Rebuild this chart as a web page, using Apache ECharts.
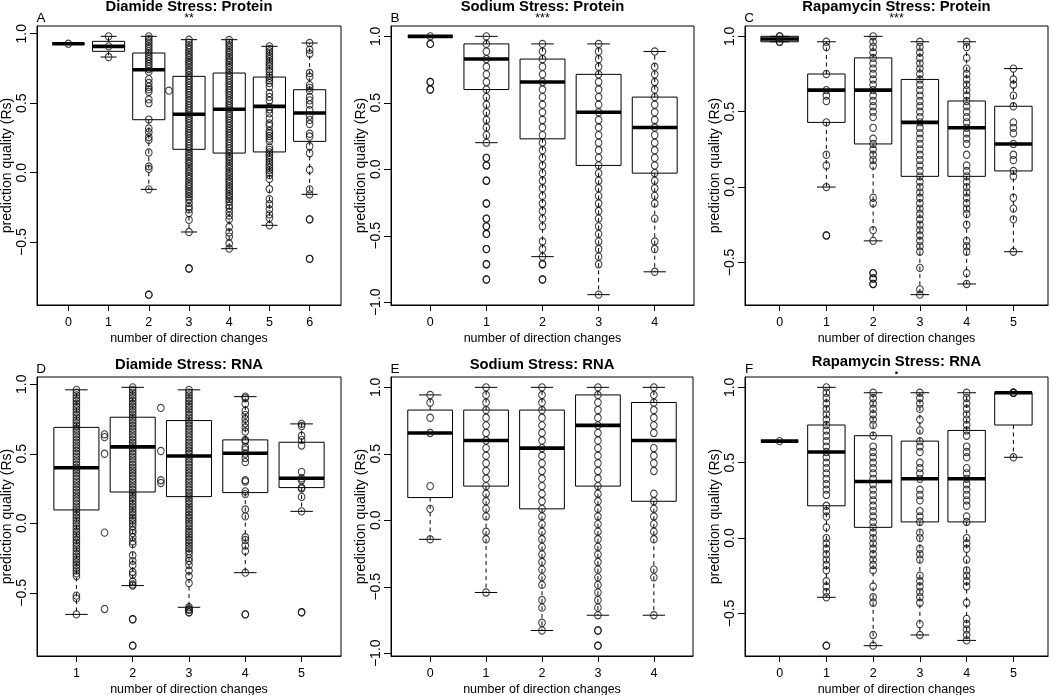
<!DOCTYPE html>
<html><head><meta charset="utf-8">
<script src="https://cdn.jsdelivr.net/npm/echarts@6/dist/echarts.min.js"></script>
<style>html,body{margin:0;padding:0;background:#fff}#c{width:1050px;height:695px}</style>
</head><body><div id="c"></div>
<script>
// ---------------- DATA ----------------
const titles = ['Diamide Stress: Protein','Sodium Stress: Protein','Rapamycin Stress: Protein',
                'Diamide Stress: RNA','Sodium Stress: RNA','Rapamycin Stress: RNA'];
const letters = ['A','B','C','D','E','F'];
const stars = ['**','***','***','','','.'];
const xTitle = 'number of direction changes';
const yTitle = 'prediction quality (Rs)';

// categories (number of direction changes) per panel
const catsA = [0,1,2,3,4,5,6];
const catsB = [0,1,2,3,4];
const catsC = [0,1,2,3,4,5];
const catsD = [1,2,3,4,5];
const catsE = [0,1,2,3,4];
const catsF = [0,1,2,3,4,5];

// y tick labels per panel
const yTicksA = [-0.5,0,0.5,1];
const yTicksB = [-1,-0.5,0,0.5,1];
const yTicksC = [-0.5,0,0.5,1];
const yTicksD = [-0.5,0,0.5,1];
const yTicksE = [-1,-0.5,0,0.5,1];
const yTicksF = [-0.5,0,0.5,1];

// box statistics per category: [lower whisker, Q1, median, Q3, upper whisker]
const boxA = [[0.928,0.928,0.928,0.928,0.928],[0.832,0.873,0.909,0.945,0.981],[-0.12,0.381,0.741,0.861,0.981],
              [-0.427,0.168,0.42,0.693,0.957],[-0.547,0.141,0.456,0.717,0.957],[-0.379,0.149,0.477,0.688,0.909],
              [-0.156,0.225,0.429,0.597,0.933]];
const boxB = [[1,1,1,1,1],[0.2,0.6,0.829,0.943,1.0],[-0.657,0.229,0.657,0.829,0.943],
              [-0.943,0.029,0.429,0.714,0.943],[-0.771,-0.029,0.314,0.543,0.886]];
const boxC = [[0.964,0.964,0.982,1.0,1.0],[0.0,0.429,0.643,0.75,0.964],[-0.357,0.286,0.643,0.857,1.0],
              [-0.714,0.071,0.429,0.714,0.964],[-0.643,0.071,0.393,0.571,0.964],[-0.429,0.107,0.286,0.536,0.786]];
const boxD = [[-0.655,0.096,0.40,0.69,0.96],[-0.448,0.225,0.55,0.763,0.978],[-0.604,0.192,0.484,0.739,0.96],
              [-0.355,0.221,0.504,0.6,0.911],[0.086,0.257,0.324,0.583,0.715]];
const boxE = [[-0.143,0.171,0.657,0.829,0.943],[-0.543,0.257,0.6,0.829,1.0],[-0.829,0.086,0.543,0.829,1.0],
              [-0.714,0.257,0.714,0.943,1.0],[-0.714,0.143,0.6,0.886,1.0]];
const boxF = [[0.643,0.643,0.643,0.643,0.643],[-0.393,0.214,0.571,0.75,1.0],[-0.714,0.071,0.375,0.679,0.964],
              [-0.643,0.107,0.393,0.643,0.964],[-0.679,0.107,0.393,0.714,0.964],[0.536,0.75,0.964,0.964,0.964]];

// individual gene values per category (overlaid circles)
const ptsA = [
 [0.928],
 [0.981,0.909,0.832],
 [0.981,0.963,0.945,0.927,0.909,0.891,0.873,0.855,0.836,0.818,0.8,0.782,0.764,0.745,0.727,0.673,0.645,0.618,0.6,0.582,0.527,0.5,0.382,0.318,0.291,0.255,0.236,0.145,0.045,0.027,-0.12,-0.878],
 [0.957,0.936,0.918,0.9,0.882,0.864,0.845,0.827,0.809,0.791,0.773,0.755,0.736,0.718,0.7,0.682,0.664,0.645,0.627,0.609,0.591,0.573,0.555,0.536,0.518,0.5,0.482,0.464,0.445,0.427,0.409,0.391,0.373,0.355,0.336,0.318,0.3,0.282,0.264,0.245,0.227,0.209,0.191,0.173,0.155,0.136,0.118,0.1,0.082,0.064,0.045,0.027,0.009,-0.009,-0.027,-0.045,-0.064,-0.082,-0.1,-0.118,-0.136,-0.155,-0.173,-0.191,-0.218,-0.245,-0.264,-0.291,-0.34,-0.427,-0.69],
 [0.955,0.936,0.918,0.9,0.882,0.864,0.845,0.827,0.809,0.791,0.773,0.755,0.736,0.718,0.7,0.682,0.664,0.645,0.627,0.609,0.591,0.573,0.555,0.536,0.518,0.5,0.482,0.464,0.445,0.427,0.409,0.391,0.373,0.355,0.336,0.318,0.3,0.282,0.264,0.245,0.227,0.209,0.191,0.173,0.155,0.136,0.118,0.1,0.082,0.064,0.045,0.027,0.009,-0.009,-0.027,-0.045,-0.064,-0.082,-0.1,-0.118,-0.136,-0.155,-0.173,-0.191,-0.209,-0.236,-0.255,-0.282,-0.309,-0.336,-0.39,-0.43,-0.46,-0.51,-0.547],
 [0.909,0.891,0.873,0.855,0.836,0.818,0.8,0.782,0.764,0.745,0.727,0.7,0.682,0.664,0.645,0.618,0.573,0.545,0.518,0.473,0.455,0.427,0.391,0.355,0.336,0.3,0.282,0.264,0.245,0.227,0.182,0.164,0.145,0.127,0.109,0.091,0.073,0.055,0.036,0.018,0.0,-0.018,-0.045,-0.118,-0.191,-0.227,-0.264,-0.3,-0.327,-0.379],
 [0.933,0.885,0.856,0.717,0.69,0.63,0.61,0.59,0.545,0.52,0.49,0.45,0.41,0.38,0.35,0.28,0.26,0.19,0.14,0.02,-0.12,-0.156,-0.336,-0.62]
];
const ptsB = [
 [1.0,0.943,0.657,0.6],
 [1.0,0.943,0.886,0.829,0.771,0.714,0.657,0.6,0.543,0.486,0.429,0.371,0.314,0.257,0.2,0.086,0.029,-0.086,-0.257,-0.371,-0.429,-0.486,-0.6,-0.714,-0.829],
 [0.943,0.886,0.829,0.771,0.714,0.657,0.6,0.543,0.486,0.429,0.371,0.314,0.257,0.2,0.143,0.086,0.029,-0.029,-0.086,-0.143,-0.2,-0.257,-0.314,-0.371,-0.429,-0.543,-0.6,-0.657,-0.714,-0.829],
 [0.943,0.886,0.829,0.771,0.714,0.657,0.6,0.543,0.486,0.429,0.371,0.314,0.257,0.2,0.143,0.086,0.029,-0.029,-0.086,-0.143,-0.2,-0.257,-0.314,-0.371,-0.429,-0.486,-0.543,-0.6,-0.657,-0.714,-0.943],
 [0.886,0.771,0.714,0.657,0.6,0.543,0.486,0.429,0.371,0.314,0.257,0.2,0.143,0.086,0.029,-0.029,-0.086,-0.143,-0.2,-0.257,-0.371,-0.543,-0.6,-0.771]
];
const ptsC = [
 [1.0,1.0,0.964,0.964],
 [0.964,0.929,0.75,0.643,0.607,0.571,0.429,0.214,0.143,0.0,-0.321],
 [1.0,0.964,0.929,0.893,0.857,0.821,0.786,0.75,0.714,0.679,0.643,0.607,0.571,0.536,0.5,0.464,0.393,0.321,0.286,0.25,0.214,0.179,0.143,-0.071,-0.107,-0.286,-0.357,-0.571,-0.607,-0.643],
 [0.964,0.929,0.893,0.857,0.821,0.786,0.75,0.714,0.679,0.643,0.607,0.571,0.536,0.5,0.464,0.429,0.393,0.357,0.321,0.286,0.25,0.214,0.179,0.143,0.107,0.071,0.036,0.0,-0.036,-0.071,-0.107,-0.143,-0.179,-0.214,-0.25,-0.286,-0.321,-0.357,-0.393,-0.429,-0.536,-0.679,-0.714],
 [0.964,0.929,0.857,0.786,0.75,0.714,0.679,0.643,0.607,0.571,0.536,0.5,0.464,0.429,0.393,0.357,0.321,0.286,0.214,0.143,0.107,0.071,0.036,0.0,-0.036,-0.071,-0.107,-0.143,-0.179,-0.25,-0.357,-0.393,-0.429,-0.571,-0.643],
 [0.786,0.714,0.679,0.607,0.536,0.429,0.393,0.357,0.286,0.214,0.179,0.107,0.071,-0.071,-0.143,-0.214,-0.429]
];
const ptsD = [
 [0.96,0.94,0.92,0.9,0.88,0.86,0.84,0.82,0.8,0.78,0.76,0.74,0.72,0.7,0.68,0.66,0.64,0.62,0.6,0.58,0.56,0.54,0.52,0.5,0.48,0.46,0.44,0.42,0.4,0.38,0.36,0.34,0.32,0.3,0.28,0.26,0.24,0.22,0.2,0.18,0.16,0.14,0.12,0.1,0.08,0.06,0.04,0.02,0.0,-0.02,-0.04,-0.06,-0.08,-0.1,-0.12,-0.14,-0.16,-0.18,-0.2,-0.22,-0.24,-0.26,-0.28,-0.3,-0.32,-0.34,-0.36,-0.38,-0.52,-0.54,-0.655],
 [0.978,0.96,0.94,0.92,0.9,0.88,0.86,0.84,0.82,0.8,0.78,0.76,0.74,0.72,0.7,0.68,0.66,0.64,0.62,0.6,0.58,0.56,0.54,0.52,0.5,0.48,0.46,0.44,0.42,0.4,0.38,0.36,0.34,0.32,0.3,0.28,0.26,0.24,0.22,0.2,0.18,0.16,0.14,0.12,0.1,0.08,0.06,0.04,0.02,0.0,-0.02,-0.05,-0.07,-0.1,-0.13,-0.15,-0.23,-0.27,-0.3,-0.35,-0.37,-0.42,-0.44,-0.448,-0.69,-0.88],
 [0.96,0.94,0.92,0.9,0.88,0.86,0.84,0.82,0.8,0.78,0.76,0.74,0.72,0.7,0.68,0.66,0.64,0.62,0.6,0.58,0.56,0.54,0.52,0.5,0.48,0.46,0.44,0.42,0.4,0.38,0.36,0.34,0.32,0.3,0.28,0.26,0.24,0.22,0.2,0.18,0.16,0.14,0.12,0.1,0.08,0.06,0.04,0.02,0.0,-0.02,-0.04,-0.06,-0.08,-0.1,-0.12,-0.14,-0.16,-0.18,-0.2,-0.22,-0.25,-0.27,-0.3,-0.34,-0.38,-0.43,-0.604,-0.62,-0.64],
 [0.911,0.9,0.86,0.81,0.78,0.75,0.72,0.69,0.66,0.6,0.59,0.55,0.53,0.5,0.47,0.44,0.31,0.3,0.23,0.21,0.1,0.05,-0.1,-0.12,-0.16,-0.2,-0.355,-0.655],
 [0.715,0.7,0.63,0.6,0.56,0.37,0.324,0.31,0.257,0.25,0.19,0.086,-0.64]
];
const ptsE = [
 [0.943,0.886,0.771,0.657,0.257,0.086,-0.143],
 [1.0,0.943,0.886,0.829,0.771,0.714,0.657,0.6,0.543,0.486,0.429,0.371,0.314,0.257,0.2,0.143,0.086,0.029,-0.086,-0.143,-0.543],
 [1.0,0.943,0.886,0.829,0.771,0.714,0.657,0.6,0.543,0.486,0.429,0.371,0.314,0.257,0.2,0.143,0.086,0.029,-0.029,-0.086,-0.143,-0.2,-0.257,-0.314,-0.371,-0.429,-0.486,-0.6,-0.657,-0.771,-0.829],
 [1.0,0.943,0.886,0.829,0.771,0.714,0.657,0.6,0.543,0.486,0.429,0.371,0.314,0.257,0.2,0.143,0.086,0.029,-0.029,-0.086,-0.143,-0.2,-0.257,-0.314,-0.371,-0.429,-0.486,-0.543,-0.6,-0.657,-0.714,-0.829,-0.943],
 [1.0,0.943,0.886,0.829,0.771,0.714,0.657,0.543,0.486,0.429,0.371,0.2,0.143,0.086,0.029,-0.029,-0.086,-0.143,-0.371,-0.429,-0.714]
];
const ptsF = [
 [0.643],
 [1.0,0.964,0.929,0.893,0.857,0.821,0.786,0.75,0.714,0.679,0.643,0.607,0.571,0.536,0.5,0.464,0.429,0.393,0.357,0.321,0.286,0.214,0.179,0.143,0.071,0.0,-0.036,-0.071,-0.107,-0.143,-0.179,-0.214,-0.286,-0.321,-0.357,-0.393,-0.714],
 [0.964,0.929,0.893,0.857,0.821,0.786,0.75,0.679,0.607,0.571,0.536,0.5,0.464,0.429,0.393,0.357,0.321,0.286,0.25,0.214,0.179,0.143,0.107,0.071,0.036,0.0,-0.036,-0.071,-0.107,-0.143,-0.179,-0.214,-0.321,-0.393,-0.429,-0.643,-0.714],
 [0.964,0.929,0.893,0.857,0.786,0.714,0.643,0.607,0.571,0.5,0.464,0.429,0.393,0.321,0.286,0.25,0.179,0.143,0.107,0.036,0.0,-0.071,-0.107,-0.143,-0.25,-0.286,-0.321,-0.357,-0.393,-0.429,-0.571,-0.643],
 [0.964,0.929,0.893,0.857,0.821,0.786,0.75,0.714,0.679,0.607,0.571,0.536,0.464,0.429,0.393,0.357,0.321,0.286,0.25,0.214,0.143,0.107,0.0,-0.036,-0.071,-0.143,-0.214,-0.25,-0.286,-0.321,-0.429,-0.536,-0.571,-0.607,-0.643,-0.679],
 [0.964,0.964,0.964,0.536]
];
// points lying between categories: [x, value]
const extraA = [[2.5,0.59]];
const extraB = [];
const extraC = [];
const extraD = [[1.5,0.64],[1.5,0.62],[1.5,0.5],[1.5,-0.067],[1.5,-0.616],[2.5,0.83],[2.5,0.52],[2.5,0.31],[2.5,0.29]];
const extraE = [];
const extraF = [];

// ---------------- LAYOUT ----------------
const gridPos = [
  {left:37, top:26, width:304, height:279},
  {left:391, top:26, width:303, height:279},
  {left:745, top:26, width:303, height:279},
  {left:37, top:377, width:304, height:279},
  {left:391, top:377, width:302, height:279},
  {left:745, top:377, width:303, height:279}
];
const FONT = '"Liberation Sans", Arial, Helvetica, sans-serif';

const allCats = [catsA,catsB,catsC,catsD,catsE,catsF];
const allTicks = [yTicksA,yTicksB,yTicksC,yTicksD,yTicksE,yTicksF];
const allBox = [boxA,boxB,boxC,boxD,boxE,boxF];
const allPts = [ptsA,ptsB,ptsC,ptsD,ptsE,ptsF];
const allExtra = [extraA,extraB,extraC,extraD,extraE,extraF];

const fmt = v => (v < 0 ? '\u2212' : '') + Math.abs(v).toFixed(1);

const grids = [], xAxes = [], yAxes = [], series = [], titleComps = [], graphics = [];

function renderBox(params, api) {
  const x = api.value(0);
  const lo = api.value(1), q1 = api.value(2), md = api.value(3), q3 = api.value(4), hi = api.value(5);
  const bw = api.size([0.8, 0])[0];
  const cw = bw * 0.5;
  const pLo = api.coord([x, lo]), pQ1 = api.coord([x, q1]), pMd = api.coord([x, md]),
        pQ3 = api.coord([x, q3]), pHi = api.coord([x, hi]);
  const cx = pMd[0];
  const ch = [];
  const dash = {stroke:'#000', lineWidth:1, lineDash:[4,3.5]};
  if (pHi[1] < pQ3[1] - 0.5) ch.push({type:'line', shape:{x1:cx,y1:pQ3[1],x2:cx,y2:pHi[1]}, style:dash});
  if (pLo[1] > pQ1[1] + 0.5) ch.push({type:'line', shape:{x1:cx,y1:pQ1[1],x2:cx,y2:pLo[1]}, style:dash});
  ch.push({type:'line', shape:{x1:cx-cw/2,y1:pHi[1],x2:cx+cw/2,y2:pHi[1]}, style:{stroke:'#000',lineWidth:1}});
  ch.push({type:'line', shape:{x1:cx-cw/2,y1:pLo[1],x2:cx+cw/2,y2:pLo[1]}, style:{stroke:'#000',lineWidth:1}});
  ch.push({type:'rect', shape:{x:cx-bw/2, y:pQ3[1], width:bw, height:Math.max(pQ1[1]-pQ3[1],0.01)},
           style:{fill:'rgba(0,0,0,0)', stroke:'#000', lineWidth:1}});
  ch.push({type:'line', shape:{x1:cx-bw/2,y1:pMd[1],x2:cx+bw/2,y2:pMd[1]}, style:{stroke:'#000',lineWidth:3.6}});
  return {type:'group', children:ch};
}

const ptStyle = {color:'rgba(0,0,0,0)', borderColor:'#111', borderWidth:1.1};
const ptSize = [6.6, 7.2];

for (let i = 0; i < 6; i++) {
  const cats = allCats[i], box = allBox[i], pts = allPts[i], extra = allExtra[i];
  const n = cats.length;
  // y extent like R: data range expanded by 4%
  let lo = Infinity, hi = -Infinity;
  box.forEach(b => b.forEach(v => { lo = Math.min(lo, v); hi = Math.max(hi, v); }));
  pts.forEach(a => a.forEach(v => { lo = Math.min(lo, v); hi = Math.max(hi, v); }));
  extra.forEach(p => { lo = Math.min(lo, p[1]); hi = Math.max(hi, p[1]); });
  const pad = (hi - lo) * 0.04;
  const xPad = 0.04 * n;
  const g = gridPos[i];
  grids.push({left:g.left, top:g.top, width:g.width, height:g.height, show:true,
              borderColor:'#000', borderWidth:1, backgroundColor:'transparent', containLabel:false, outerBoundsMode:'none'});
  xAxes.push({gridIndex:i, type:'value', min:cats[0]-0.5-xPad, max:cats[n-1]+0.5+xPad,
    axisLine:{show:true, onZero:false, lineStyle:{color:'#000', width:1}},
    splitLine:{show:false},
    axisTick:{show:true, inside:false, length:6, customValues:cats, lineStyle:{color:'#000', width:1}},
    axisLabel:{show:true, customValues:cats, margin:11, fontSize:12.5, color:'#000', fontFamily:FONT, formatter: v => String(v)},
    name:xTitle, nameLocation:'middle', nameGap:27,
    nameTextStyle:{fontSize:12.5, color:'#000', fontFamily:FONT}});
  yAxes.push({gridIndex:i, type:'value', min:lo-pad, max:hi+pad,
    axisLine:{show:true, onZero:false, lineStyle:{color:'#000', width:1}},
    splitLine:{show:false},
    axisTick:{show:true, inside:false, length:7, customValues:allTicks[i], lineStyle:{color:'#000', width:1}},
    axisLabel:{show:true, customValues:allTicks[i], rotate:90, margin:8, fontSize:14, color:'#000', fontFamily:FONT, formatter:fmt},
    name:yTitle, nameLocation:'middle', nameGap:22,
    nameTextStyle:{fontSize:14, color:'#000', fontFamily:FONT}});
  // boxes
  series.push({type:'custom', xAxisIndex:i, yAxisIndex:i, silent:true, clip:false,
    data: box.map((b, k) => [cats[k]].concat(b)),
    encode:{x:0, y:[1,2,3,4,5]},
    renderItem: renderBox, z:2});
  // outliers (drawn by boxplot, then overdrawn by the points)
  const outs = [];
  pts.forEach((a, k) => a.forEach(v => { if (v < box[k][0] - 1e-9 || v > box[k][4] + 1e-9) outs.push([cats[k], v]); }));
  series.push({type:'scatter', xAxisIndex:i, yAxisIndex:i, silent:true, symbol:'circle', symbolSize:ptSize,
    itemStyle:ptStyle, data:outs, z:3});
  // all points
  const all = [];
  pts.forEach((a, k) => a.forEach(v => all.push([cats[k], v])));
  extra.forEach(p => all.push([p[0], p[1]]));
  series.push({type:'scatter', xAxisIndex:i, yAxisIndex:i, silent:true, symbol:'circle', symbolSize:ptSize,
    itemStyle:ptStyle, data:all, z:4});
  const cx = g.left + g.width / 2;
  titleComps.push({text:titles[i], left:cx, top: i < 3 ? -1 : (i === 5 ? 354 : 357), textAlign:'center', padding:0,
    textStyle:{fontSize:14.8, fontWeight:'bold', color:'#000', fontFamily:FONT}});
  graphics.push({type:'text', x:g.left + 4, y:g.top - 8, silent:true,
    style:{text:letters[i], fontSize:13.5, fill:'#000', fontFamily:FONT, align:'center', verticalAlign:'middle'}});
  if (stars[i]) graphics.push({type:'text', x:cx, y:g.top - 7, silent:true,
    style:{text:stars[i], fontSize:stars[i] === '.' ? 16 : 12.5, fontWeight: stars[i] === '.' ? 'bold' : 'normal',
           fill:'#000', fontFamily:FONT, align:'center', verticalAlign:'middle'}});
}

const chart = echarts.init(document.getElementById('c'), null, {renderer:'canvas'});
chart.setOption({
  backgroundColor:'#fff',
  animation:false,
  title:titleComps,
  grid:grids, xAxis:xAxes, yAxis:yAxes, series:series, graphic:graphics
});
</script></body></html>
